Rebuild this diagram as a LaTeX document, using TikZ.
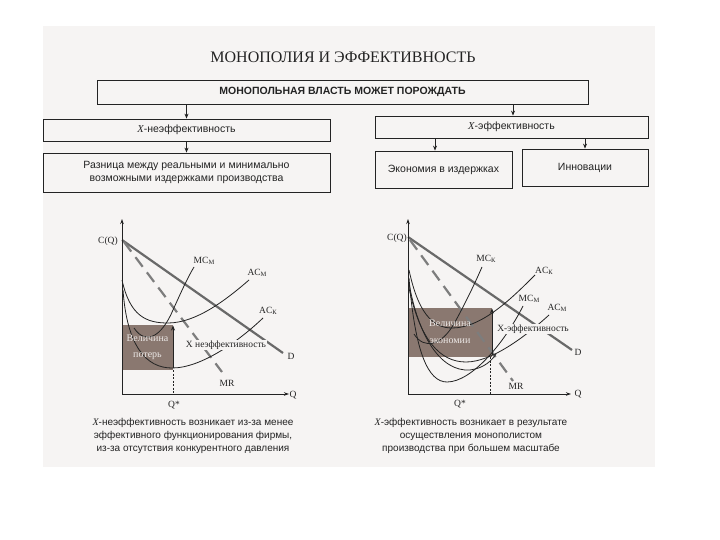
\documentclass[tikz,border=0pt]{standalone}
\usepackage{fontspec}
\setmainfont{Liberation Serif}
\newfontfamily\sansf{Liberation Sans}
\usetikzlibrary{arrows.meta}
\definecolor{paper}{RGB}{246,244,243}
\definecolor{ink}{RGB}{35,35,35}
\definecolor{dgray}{RGB}{105,105,105}
\definecolor{mgray}{RGB}{125,125,125}
\definecolor{lossfill}{RGB}{138,120,112}
\definecolor{shadetext}{RGB}{236,232,230}
\newcommand\gsub[1]{\raisebox{-0.35ex}{\fontsize{6.5}{7}\selectfont #1}}
\begin{document}
\begin{tikzpicture}[x=1pt,y=-1pt,
  box/.style={draw=ink, line width=0.8pt, fill=paper, inner sep=1pt, align=center,
    font=\sansf\fontsize{10.5}{13.5}\selectfont, text=ink},
  arr/.style={draw=ink, line width=0.7pt, -{Stealth[length=5pt,width=4pt]}},
  axis/.style={draw=ink, line width=1pt, -{Stealth[length=5pt,width=3.5pt]}},
  dline/.style={draw=dgray, line width=2.2pt},
  mrline/.style={draw=mgray, line width=2.2pt, dash pattern=on 12pt off 7pt},
  crv/.style={draw=ink, line width=0.8pt},
  glab/.style={font=\fontsize{9.5}{10}\selectfont, text=ink, inner sep=0.5pt},
  slab/.style={font=\fontsize{10}{11}\selectfont, text=shadetext, inner sep=0pt},
  xlab/.style={font=\fontsize{9.5}{10}\selectfont, text=ink, fill=paper, inner sep=1pt},
  captext/.style={font=\sansf\fontsize{10}{13}\selectfont, text=ink, align=center}]
\useasboundingbox (0,0) rectangle (720,540);
\fill[white] (0,0) rectangle (720,540);
\fill[paper] (43,26) rectangle (655,467);

% title and boxes
\node[font=\fontsize{16}{17}\selectfont, text=ink] (title) at (343,57) {МОНОПОЛИЯ И ЭФФЕКТИВНОСТЬ};
\node[box, minimum width=491pt, minimum height=24pt, font=\sansf\bfseries\fontsize{10.5}{12}\selectfont] (main) at (342.5,92) {МОНОПОЛЬНАЯ ВЛАСТЬ МОЖЕТ ПОРОЖДАТЬ};
\node[box, minimum width=287pt, minimum height=22pt] (xneff) at (186.5,130) {{\rmfamily\itshape Х}-неэффективность};
\node[box, minimum width=273pt, minimum height=22pt] (xeff) at (511.5,127) {{\rmfamily\itshape Х}-эффективность};
\node[box, minimum width=287pt, minimum height=39pt] (diff) at (186.5,172.5) {Разница между реальными и минимально\\возможными издержками производства};
\node[box, minimum width=137pt, minimum height=37pt] (econ) at (443.5,169.5) {Экономия в издержках};
\node[box, minimum width=126pt, minimum height=37pt] (innov) at (585,167.5) {Инновации};
\draw[arr] (main.south -| xneff.north) -- (xneff.north);
\draw[arr] (main.south -| 513,0) -- (xeff.north -| 513,0);
\draw[arr] (xneff.south) -- (diff.north);
\draw[arr] (xeff.south -| 435,0) -- (econ.north -| 435,0);
\draw[arr] (xeff.south -| innov.north) -- (innov.north);

% ---------- left graph ----------
\coordinate (o1) at (122,394);
\fill[lossfill] (122,325) rectangle (173,370);
\draw[dline] (122,240) -- (283,353);
\draw[mrline] (124,242) -- (222,372);
\draw[crv] (122,280) .. controls (130,316) and (146,323) .. (168,323) .. controls (196,323) and (226,300) .. (249,280);
\draw[crv] (123,290) .. controls (127,346) and (146,368) .. (172,368) .. controls (202,368) and (240,340) .. (263,318);
\draw[crv] (134,328) .. controls (146,346) and (162,336) .. (173,310) .. controls (182,290) and (188,277) .. (194,267);
\node[slab] (lv1) at (147.5,338) {Величина};
\node[slab] (lv2) at (147.5,356) {потерь};
\draw[arr] (173,368) -- (173,325.5);
\draw[ink, line width=0.6pt, dash pattern=on 2pt off 1.5pt] (173,370) -- (173,394);
\draw[axis] (o1) -- (122,219);
\draw[axis] (o1) -- (289,394);
\node[xlab] (lx) at (226,345) {Х неэффективность};
\node[glab] (lcq) at (108,241) {C(Q)};
\node[glab] (lmcm) at (204,261) {MC\gsub{М}};
\node[glab] (lacm) at (257,273) {AC\gsub{М}};
\node[glab] (lack) at (268,311) {AC\gsub{К}};
\node[glab] (ld) at (291,356) {D};
\node[glab] (lmr) at (227,383) {MR};
\node[glab] (lq) at (293,395) {Q};
\node[glab] (lqs) at (174,405) {Q*};

% ---------- right graph ----------
\coordinate (o2) at (408,394);
\fill[lossfill] (408,308) rectangle (492,357);
\draw[dline] (408,237) -- (572,350);
\draw[mrline] (410,240) -- (513,381);
\draw[crv] (409,270) .. controls (418,312) and (432,328) .. (452,328) .. controls (482,328) and (512,298) .. (535,275);
\draw[crv] (414,334) .. controls (424,350) and (442,346) .. (455,322) .. controls (466,302) and (475,283) .. (482,267);
\draw[crv] (409,278) .. controls (415,352) and (428,382) .. (447,382) .. controls (472,382) and (505,342) .. (523,306);
\draw[crv] (409,288) .. controls (420,340) and (440,362) .. (466,362) .. controls (492,362) and (526,336) .. (549,315);
\draw[crv] (409,283) .. controls (418,335) and (440,372) .. (470,370) .. controls (485,368) and (492,360) .. (496,354);
\node[slab] (rv1) at (450,323) {Величина};
\node[slab] (rv2) at (450,341) {экономии};
\draw[arr] (492,355) -- (492,308.5);
\draw[ink, line width=0.6pt, dash pattern=on 2pt off 1.5pt] (490,357) -- (490,394);
\draw[axis] (o2) -- (408,219);
\draw[axis] (o2) -- (571,394);
\node[xlab] (rx) at (533,329) {Х-эффективность};
\node[glab] (rcq) at (397,238) {C(Q)};
\node[glab] (rmck) at (486,259) {MC\gsub{К}};
\node[glab] (rack) at (544,271) {AC\gsub{К}};
\node[glab] (rmcm) at (529,299) {MC\gsub{М}};
\node[glab] (racm) at (557,308) {AC\gsub{М}};
\node[glab] (rd) at (578,352) {D};
\node[glab] (rmr) at (516,386) {MR};
\node[glab] (rq) at (578,394) {Q};
\node[glab] (rqs) at (460,404) {Q*};

% captions
\node[captext] (lcap) at (193,436) {{\rmfamily\itshape Х}-неэффективность возникает из-за менее\\эффективного функционирования фирмы,\\из-за отсутствия конкурентного давления};
\node[captext] (rcap) at (471,436) {{\rmfamily\itshape Х}-эффективность возникает в результате\\осуществления монополистом\\производства при большем масштабе};
\end{tikzpicture}
\end{document}
